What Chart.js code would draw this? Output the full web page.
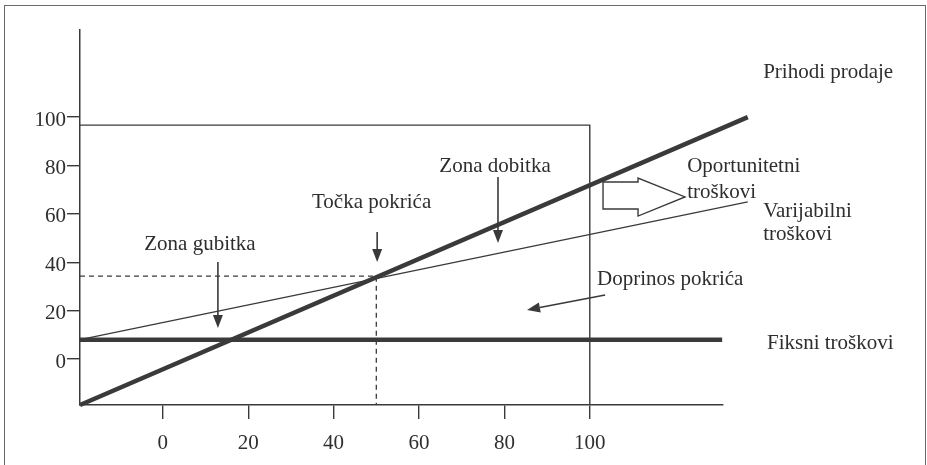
<html>
<head>
<script src="https://cdn.jsdelivr.net/npm/chart.js@4.4.1/dist/chart.umd.min.js"></script>
<style>
  body { margin: 0; background: #fff; overflow: hidden; }
  #frame { position: absolute; left: 4px; top: 5px; width: 920px; height: 480px;
           border: 1.5px solid #6a6a6a; border-bottom: none; }
  canvas { position: absolute; left: 0; top: 0; }
</style>
</head>
<body>
<div id="frame"></div>
<canvas id="myChart" width="927" height="465"></canvas>
<script>
    // values (axis units)
    const xTicks = [0, 20, 40, 60, 80, 100]
    const yTicks = [0, 20, 40, 60, 80, 100]
    const revenueX = [-19.4, 137]
    const revenueY = [-19, 100]
    const fixedX = [-19.4, 131]
    const fixedY = [8, 8]
    const variableX = [-19.4, 137]
    const variableY = [8, 65]
    const boxX = [-19.4, 100, 100]
    const boxY = [96.7, 96.7, -19]
    const breakEvenX = [-19.4, 50, 50]
    const breakEvenY = [34.3, 34.3, -19]

    const ink = '#3a3a3a'
    const font = '21px "Liberation Serif", "Times New Roman", serif'

    function pts(xs, ys) {
        return xs.map((x, i) => ({ x: x, y: ys[i] }))
    }

    // annotations in axis units
    const labels = [
        { t: 'Prihodi prodaje', x: 140.6, y: 118.6, a: 'left' },
        { t: 'Oportunitetni', x: 122.8, y: 79.4, a: 'left' },
        { t: 'troškovi', x: 122.8, y: 69.0, a: 'left' },
        { t: 'Varijabilni', x: 140.6, y: 60.8, a: 'left' },
        { t: 'troškovi', x: 140.6, y: 51.3, a: 'left' },
        { t: 'Fiksni troškovi', x: 141.5, y: 6.6, a: 'left' },
        { t: 'Doprinos pokrića', x: 101.7, y: 32.7, a: 'left' },
        { t: 'Zona gubitka', x: 8.7, y: 47.5, a: 'center' },
        { t: 'Točka pokrića', x: 48.9, y: 64.5, a: 'center' },
        { t: 'Zona dobitka', x: 77.8, y: 79.4, a: 'center' }
    ]
    const arrows = [
        [12.9, 40.1, 12.9, 12.8],
        [50.2, 52.5, 50.2, 40.1],
        [78.5, 75.2, 78.5, 48.0],
        [103.6, 26.5, 85.3, 20.3]
    ]
    const blockArrow = [
        [103.1, 73.2], [111.3, 73.2], [111.3, 74.8], [122.3, 67.0],
        [111.3, 59.1], [111.3, 62.0], [103.1, 62.0]
    ]

    const annotations = {
        id: 'annotations',
        afterDatasetsDraw(chart) {
            const ctx = chart.ctx
            const X = v => chart.scales.x.getPixelForValue(v)
            const Y = v => chart.scales.y.getPixelForValue(v)
            ctx.save()
            ctx.fillStyle = '#2e2e2e'
            ctx.font = font
            ctx.textBaseline = 'middle'
            labels.forEach(l => {
                ctx.textAlign = l.a
                ctx.fillText(l.t, X(l.x), Y(l.y))
            })
            ctx.strokeStyle = ink
            ctx.fillStyle = ink
            ctx.lineWidth = 1.6
            arrows.forEach(a => {
                const x1 = X(a[0]), y1 = Y(a[1]), x2 = X(a[2]), y2 = Y(a[3])
                const ang = Math.atan2(y2 - y1, x2 - x1)
                const len = 13, hw = 5
                const bx = x2 - len * Math.cos(ang), by = y2 - len * Math.sin(ang)
                ctx.beginPath()
                ctx.moveTo(x1, y1)
                ctx.lineTo(bx, by)
                ctx.stroke()
                ctx.beginPath()
                ctx.moveTo(x2, y2)
                ctx.lineTo(bx + hw * Math.sin(ang), by - hw * Math.cos(ang))
                ctx.lineTo(bx - hw * Math.sin(ang), by + hw * Math.cos(ang))
                ctx.closePath()
                ctx.fill()
            })
            ctx.lineWidth = 1.4
            ctx.beginPath()
            blockArrow.forEach((p, i) => {
                if (i === 0) ctx.moveTo(X(p[0]), Y(p[1]))
                else ctx.lineTo(X(p[0]), Y(p[1]))
            })
            ctx.closePath()
            ctx.stroke()
            ctx.restore()
        }
    }

    const ctx = document.getElementById('myChart').getContext('2d')
    const myChart = new Chart(ctx, {
        type: 'line',
        data: {
            datasets: [
                { data: pts(revenueX, revenueY), borderColor: ink, borderWidth: 4.5, clip: false },
                { data: pts(fixedX, fixedY), borderColor: ink, borderWidth: 4.5, clip: false },
                { data: pts(variableX, variableY), borderColor: ink, borderWidth: 1.3, clip: false },
                { data: pts(boxX, boxY), borderColor: ink, borderWidth: 1.4 },
                { data: pts(breakEvenX, breakEvenY), borderColor: ink, borderWidth: 1.3, borderDash: [5, 4] }
            ]
        },
        options: {
            responsive: false,
            animation: false,
            events: [],
            elements: { point: { radius: 0 }, line: { tension: 0, fill: false } },
            layout: { padding: { left: 0, right: 204, top: 30, bottom: 0 } },
            plugins: { legend: { display: false }, tooltip: { enabled: false } },
            scales: {
                x: {
                    type: 'linear',
                    min: -19.4,
                    max: 131.2,
                    afterFit: s => { s.height = 60 },
                    afterBuildTicks: s => { s.ticks = xTicks.map(v => ({ value: v })) },
                    grid: { drawOnChartArea: false, color: ink, lineWidth: 1.4, tickLength: 14 },
                    border: { color: ink, width: 1.5 },
                    ticks: { color: '#2e2e2e', font: { family: '"Liberation Serif", serif', size: 21 }, padding: 12, maxRotation: 0 }
                },
                y: {
                    type: 'linear',
                    min: -19,
                    max: 136,
                    afterFit: s => { s.width = 80 },
                    afterBuildTicks: s => { s.ticks = yTicks.map(v => ({ value: v })) },
                    grid: { drawOnChartArea: false, color: ink, lineWidth: 1.4, tickLength: 13 },
                    border: { color: ink, width: 1.5 },
                    ticks: { color: '#2e2e2e', font: { family: '"Liberation Serif", serif', size: 21 }, padding: 1, labelOffset: 3 }
                }
            }
        },
        plugins: [annotations]
    })
</script>
</body>
</html>
